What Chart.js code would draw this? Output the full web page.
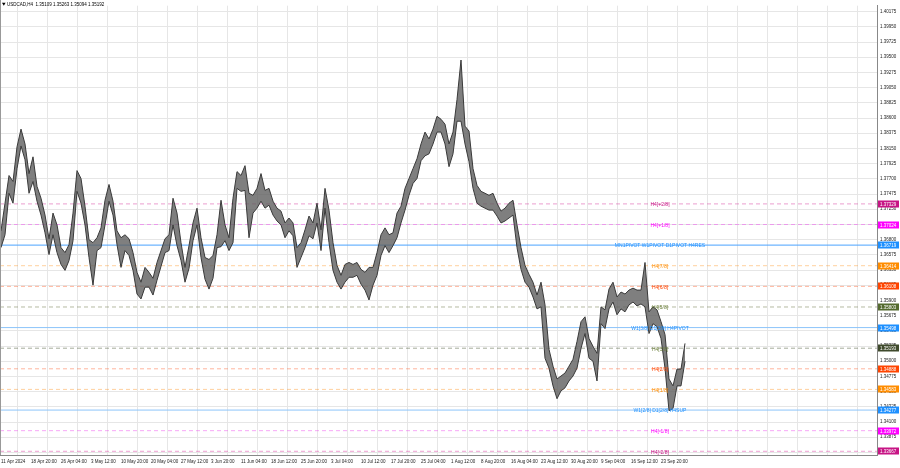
<!DOCTYPE html>
<html><head><meta charset="utf-8">
<script src="https://cdn.jsdelivr.net/npm/chart.js@4.4.1/dist/chart.umd.min.js"></script>
<style>html,body{margin:0;padding:0;background:#fff;}#wrap{width:900px;height:468px;}</style>
</head><body><div id="wrap"><canvas id="c" width="900" height="468"></canvas></div>
<script>
const symbolTitle = 'USDCAD,H4  1.35109 1.35263 1.35094 1.35192';

const highs = [
1.36930,1.37339,1.37749,1.37661,1.38173,1.38436,1.38216,1.37778,1.38026,1.37588,
1.37413,1.37164,1.36813,1.37193,1.37018,1.36682,1.36608,1.36725,1.37193,1.37822,
1.37705,1.37295,1.36799,1.36755,1.36828,1.36974,1.37383,1.37617,1.37369,1.36930,
1.36828,1.36872,1.36813,1.36608,1.36316,1.36170,1.36389,1.36316,1.36228,1.36462,
1.36638,1.36813,1.36872,1.37413,1.37193,1.36755,1.36389,1.36711,1.37047,1.37266,
1.36828,1.36535,1.36506,1.36565,1.36872,1.37383,1.37018,1.36828,1.37413,1.37807,
1.37749,1.37895,1.37486,1.37456,1.37559,1.37778,1.37529,1.37559,1.37369,1.37266,
1.37222,1.37047,1.37120,1.37047,1.36682,1.36755,1.36945,1.37149,1.37047,1.37339,
1.36945,1.37559,1.37237,1.36755,1.36418,1.36272,1.36433,1.36462,1.36433,1.36462,
1.36360,1.36316,1.36389,1.36389,1.36608,1.36872,1.36974,1.36872,1.36901,1.37193,
1.37295,1.37559,1.37705,1.37851,1.37997,1.38216,1.38392,1.38290,1.38436,1.38626,
1.38582,1.38509,1.38216,1.38392,1.38874,1.39459,1.38480,1.38407,1.37851,1.37603,
1.37515,1.37486,1.37456,1.37486,1.37339,1.37222,1.37266,1.37339,1.37383,1.37018,
1.36682,1.36418,1.36287,1.36170,1.35980,1.36170,1.35834,1.35176,1.34927,1.34737,
1.34781,1.34825,1.34927,1.35029,1.35293,1.35585,1.35658,1.35337,1.35220,1.35117,
1.35805,1.35761,1.36068,1.36170,1.35951,1.36024,1.35995,1.36053,1.36082,1.36053,
1.36053,1.36462,1.35731,1.35805,1.35761,1.35585,1.35395,1.34737,1.34635,1.34884,
1.34884,1.35264
];
const lows = [
1.36682,1.36872,1.37486,1.37339,1.37851,1.38187,1.37983,1.37486,1.37661,1.37369,
1.37164,1.36901,1.36579,1.36872,1.36608,1.36433,1.36345,1.36491,1.36784,1.37515,
1.37339,1.37018,1.36535,1.36126,1.36638,1.36682,1.37018,1.37369,1.37164,1.36725,
1.36389,1.36638,1.36565,1.36345,1.35995,1.35922,1.36097,1.36097,1.35980,1.36199,
1.36404,1.36608,1.36638,1.37018,1.36711,1.36491,1.36170,1.36375,1.36784,1.37018,
1.36535,1.36214,1.36068,1.36228,1.36682,1.36696,1.36784,1.36638,1.36755,1.37559,
1.37515,1.37529,1.36828,1.37193,1.37266,1.37369,1.37266,1.37310,1.37164,1.37076,
1.37018,1.36828,1.36930,1.36857,1.36389,1.36535,1.36682,1.36857,1.36813,1.37047,
1.36638,1.37266,1.36755,1.36345,1.36170,1.36068,1.36170,1.36243,1.36243,1.36272,
1.36141,1.36053,1.35907,1.36126,1.36272,1.36565,1.36711,1.36608,1.36711,1.36828,
1.37047,1.37237,1.37456,1.37632,1.37705,1.37968,1.38041,1.38070,1.38216,1.38392,
1.38392,1.38216,1.37880,1.38070,1.38553,1.38553,1.38216,1.37953,1.37559,1.37339,
1.37295,1.37266,1.37237,1.37237,1.37149,1.37047,1.37076,1.37120,1.37164,1.36682,
1.36360,1.36170,1.36097,1.35951,1.35775,1.35805,1.35044,1.34898,1.34635,1.34445,
1.34562,1.34606,1.34708,1.34781,1.34898,1.35190,1.35410,1.35044,1.35000,1.34708,
1.35556,1.35483,1.35775,1.35877,1.35688,1.35775,1.35731,1.35834,1.35877,1.35819,
1.35848,1.35805,1.35410,1.35556,1.35512,1.35337,1.34898,1.34269,1.34299,1.34635,
1.34635,1.35000
];

const timeLabels = ['11 Apr 2024','18 Apr 20:00','26 Apr 04:00','3 May 12:00','10 May 20:00','20 May 04:00',
'27 May 12:00','3 Jun 20:00','11 Jun 04:00','18 Jun 12:00','25 Jun 20:00','3 Jul 04:00','10 Jul 12:00',
'17 Jul 20:00','25 Jul 04:00','1 Aug 12:00','8 Aug 20:00','16 Aug 04:00','23 Aug 12:00','30 Aug 20:00',
'9 Sep 04:00','16 Sep 12:00','23 Sep 20:00'];

const priceTicks = [1.33650,1.33875,1.34100,1.34325,1.34550,1.34775,1.35000,1.35225,1.35450,1.35675,
1.35900,1.36125,1.36350,1.36575,1.36800,1.37025,1.37250,1.37475,1.37700,1.37925,1.38150,1.38375,
1.38600,1.38825,1.39050,1.39275,1.39500,1.39725,1.39950,1.40175];

const levelValues = [1.37329,1.37024,1.36719,1.36414,1.36108,1.35803,1.35498,1.35193,1.34888,1.34583,1.34277,1.33972,1.33667];
const levelNames = ['H4[+2/8]','H4[+1/8]','MN1PIVOT W1PIVOT D1PIVOT H4RES','H4[7/8]','H4[6/8]','H4[5/8]',
'W1[3/8] D1[3/8] H4PIVOT','H4[3/8]','H4[2/8]','H4[1/8]','W1[2/8] D1[2/8] H4SUP','H4[-1/8]','H4[-2/8]'];

// styles (kept apart from the data)
const levelTextColors = ['#c71585','#ff00ff','#1e90ff','#ff8c00','#ff4500','#6b7f3a','#1e90ff','#6b7f3a','#ff4500','#ff8c00','#1e90ff','#ff00ff','#c71585'];
const levelBoxColors  = ['#c71585','#ff00ff','#1e90ff','#ff8c00','#ff4500','#556b2f','#1e90ff','#3f4a2c','#ff4500','#ff8c00','#1e90ff','#ff00ff','#c71585'];
const levelLineColors = ['rgba(220,80,170,0.55)','rgba(240,80,240,0.5)','#4aa3ff','rgba(255,150,40,0.45)','rgba(255,90,40,0.45)',
 'rgba(110,120,70,0.5)','#8cc4fa','rgba(90,100,70,0.55)','rgba(255,90,40,0.45)','rgba(255,150,40,0.45)','#8cc4fa',
 'rgba(240,80,240,0.5)','rgba(220,80,170,0.55)'];
const levelSolid = [false,false,true,false,false,false,true,false,false,false,true,false,false];

const X_MIN = -0.25, X_MAX = 219;
const FONT = '"Liberation Sans", Arial, sans-serif';

const datasets = [
  { // lows edge
    data: lows.map((v,i)=>({x:i, y:v})),
    borderColor:'#3a3a3a', borderWidth:1, pointRadius:0, fill:false, order:0
  },
  { // highs edge, filled down to lows -> price band
    data: highs.map((v,i)=>({x:i, y:v})),
    borderColor:'#3a3a3a', borderWidth:1, pointRadius:0, fill:'-1',
    backgroundColor:'rgba(95,95,95,0.8)', order:0
  }
];
levelValues.forEach((v,i)=>{
  datasets.push({
    data:[{x:X_MIN,y:v},{x:X_MAX,y:v}],
    borderColor:levelLineColors[i],
    borderWidth:1,
    borderDash: levelSolid[i] ? [] : [4,3],
    pointRadius:0, fill:false,
    order:1
  });
});

const gridPositions = [];
for (let k=0;k<29;k++) gridPositions.push(4+7.5*k);

const overlay = {
  id:'overlay',
  beforeDraw(chart){
    const c=chart.ctx; c.save(); c.fillStyle='#fff'; c.fillRect(0,0,chart.width,chart.height); c.restore();
  },
  afterDatasetsDraw(chart){
    const {ctx, chartArea:a, scales:{y}} = chart;
    ctx.save();
    ctx.font = '5px '+FONT;
    ctx.textAlign='center'; ctx.textBaseline='middle';
    levelValues.forEach((v,i)=>{
      const py=y.getPixelForValue(v);
      ctx.fillStyle=levelTextColors[i];
      ctx.fillText(levelNames[i], 660, py+1);
    });
    ctx.font='4.5px '+FONT; ctx.textAlign='left'; ctx.fillStyle='#000';
    ctx.fillText(symbolTitle, 7, 4.5);
    ctx.beginPath(); ctx.moveTo(2,2.8); ctx.lineTo(5.6,2.8); ctx.lineTo(3.8,5.8); ctx.closePath(); ctx.fill();
    ctx.strokeStyle='#999'; ctx.lineWidth=1;
    ctx.beginPath(); ctx.moveTo(0.5,0); ctx.lineTo(0.5,a.bottom); ctx.stroke();
    ctx.restore();
  },
  afterDraw(chart){
    const {ctx, chartArea:a, scales:{y}} = chart;
    ctx.save();
    ctx.font='4.5px '+FONT; ctx.textAlign='left'; ctx.textBaseline='middle';
    levelValues.forEach((v,i)=>{
      const py=Math.round(y.getPixelForValue(v));
      ctx.fillStyle=levelBoxColors[i];
      ctx.fillRect(a.right+1, py-3.5, 21, 7);
      ctx.fillStyle='#fff';
      ctx.fillText(v.toFixed(5), a.right+3, py+0.3);
    });
    ctx.restore();
  }
};

new Chart(document.getElementById('c'), {
  type:'line',
  data:{datasets},
  plugins:[overlay],
  options:{
    responsive:false, animation:false, devicePixelRatio:1,
    layout:{padding:0},
    elements:{line:{tension:0}},
    plugins:{legend:{display:false}, tooltip:{enabled:false}, filler:{propagate:false}},
    scales:{
      x:{
        type:'linear', min:X_MIN, max:X_MAX, offset:false,
        afterBuildTicks: s => { s.ticks = gridPositions.map(v=>({value:v})); },
        afterFit: s => { s.height = 13; },
        grid:{color:'#e6e6e6', drawTicks:false},
        border:{color:'#888'},
        ticks:{
          autoSkip:false, maxRotation:0, minRotation:0, align:'start', labelOffset:-16, padding:4,
          font:{size:4.5, family:FONT}, color:'#222',
          callback:(v,i)=> i < timeLabels.length ? timeLabels[i] : ''
        }
      },
      y:{
        type:'linear', position:'right', min:1.33612, max:1.40263,
        afterBuildTicks: s => { s.ticks = priceTicks.map(v=>({value:v})); },
        afterFit: s => { s.width = 23; },
        grid:{color:'#e6e6e6', drawTicks:false},
        border:{color:'#888'},
        ticks:{
          autoSkip:false, padding:3, font:{size:4.5, family:FONT}, color:'#222',
          callback:v=> Number(v).toFixed(5)
        }
      }
    }
  }
});
</script>
</body></html>
